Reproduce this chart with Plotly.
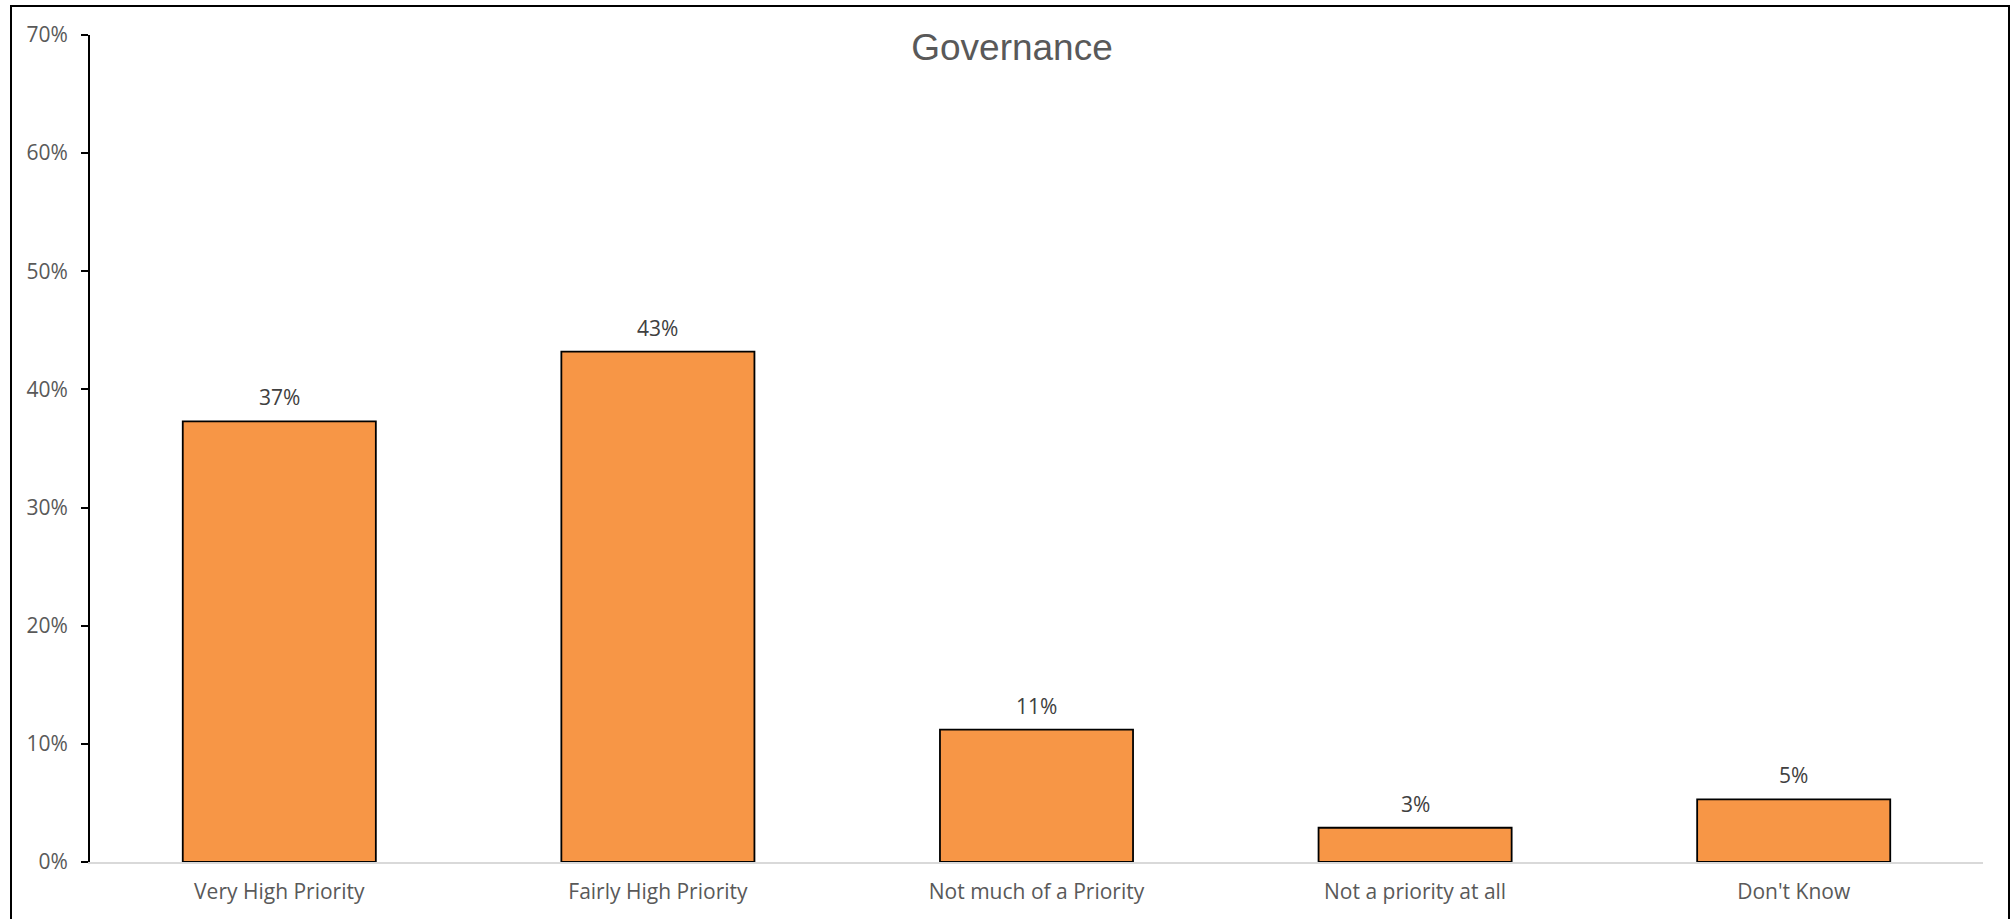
import plotly.graph_objects as go

categories = ["Very High Priority", "Fairly High Priority", "Not much of a Priority",
              "Not a priority at all", "Don't Know"]
values = [0.373, 0.432, 0.112, 0.029, 0.053]
labels = ["37%", "43%", "11%", "3%", "5%"]
y_ticks = [0, 0.1, 0.2, 0.3, 0.4, 0.5, 0.6, 0.7]
y_tick_labels = ["0%", "10%", "20%", "30%", "40%", "50%", "60%", "70%"]
title_text = "Governance"

W, H = 2013, 919
ml, mr, mt, mb = 90, 30, 35, 57
pw, ph = W - ml - mr, H - mt - mb

fig = go.Figure()
fig.add_trace(go.Bar(
    x=categories, y=values, width=0.51,
    marker=dict(color="#F79646", line=dict(color="#000000", width=1.8)),
    hoverinfo="skip",
))

for c, v, t in zip(categories, values, labels):
    fig.add_annotation(x=c, y=v, text=t, showarrow=False, yanchor="bottom",
                       yshift=8, font=dict(family="Open Sans", size=21, color="#404040"))

fig.add_shape(type="rect", xref="paper", yref="paper",
              x0=(11 - ml) / pw, x1=(2009 - ml) / pw,
              y0=-0.2, y1=(H - mb - 6) / ph,
              line=dict(color="#000000", width=2), fillcolor="rgba(0,0,0,0)", layer="below")

fig.update_layout(
    width=W, height=H,
    margin=dict(l=ml, r=mr, t=mt, b=mb, pad=0),
    paper_bgcolor="white", plot_bgcolor="white",
    showlegend=False,
    bargap=0.49,
    title=dict(text=title_text, x=1012 / W, xanchor="center", xref="container",
               y=1 - 47 / H, yanchor="middle", yref="container",
               font=dict(family="Liberation Sans, Arial", size=37, color="#595959")),
    xaxis=dict(showgrid=False, showline=True, linecolor="#D9D9D9", linewidth=1.5,
               ticks="", tickfont=dict(family="Open Sans", size=21, color="#595959"),
               ticklabelstandoff=10, fixedrange=True),
    yaxis=dict(range=[0, 0.7], tickvals=y_ticks, ticktext=y_tick_labels,
               showgrid=False, zeroline=False, showline=True, linecolor="#000000", linewidth=2,
               ticks="outside", ticklen=7, tickwidth=2, tickcolor="#000000",
               tickfont=dict(family="Open Sans", size=21, color="#595959"),
               ticklabelstandoff=9, fixedrange=True),
)

fig.write_html("out.html", config={"displayModeBar": False},
               post_script="document.body.style.margin='0px';document.body.style.overflow='hidden';")
